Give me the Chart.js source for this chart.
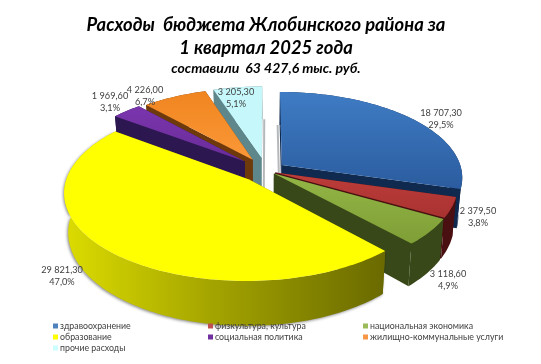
<!DOCTYPE html>
<html><head><meta charset="utf-8">
<style>html,body{margin:0;padding:0;background:#fff}canvas{display:block}</style>
<script src="https://cdn.jsdelivr.net/npm/chart.js@4"></script></head>
<body><canvas id="c" width="541" height="364" style="width:541px;height:364px"></canvas>
<script>
const categories=['здравоохранение','физкультура, культура','национальная экономика','образование','социальная политика','жилищно-коммунальные услуги','прочие расходы'];
const values=[18707.3,2379.5,3118.6,29821.3,1969.6,4226.0,3205.3];
const titleLines=['Расходы  бюджета Жлобинского района за','1 квартал 2025 года'];
const subtitleText='составили  63 427,6 тыс. руб.';
const legendColors=['#4f81bd','#c0504d','#9bbb59','#ffff00','#7030a0','#f79646','#ccffff'];
const topColors=[['#3f7cc4','#2b5c9f'],['#bd3d3a','#a83230'],['#93b545','#7f9f37'],['#ffff00','#ffff00'],['#7a35ad','#6a2c99'],['#f0851f','#fb9838'],['#c6f8fb','#c6f8fb']];
const wallColors=['#10294f','#4a0f10','#384818','#777700','#2c1750','#6e3a0c','#5e878c'];
const explode=[20,10,10,25,29,27,28];
const labelSpots=[[441,113],[478,211],[448,274],[62,270],[110,96],[145,90],[236,92]];
const R=180,Q=0.47,K=0.14,DEPTH=38;
const total=values.reduce((a,b)=>a+b,0);
const fmtValue=v=>{const[s,d]=v.toFixed(2).split('.');return s.replace(/\B(?=(\d{3})+$)/g,' ')+','+d;};
const fmtPct=v=>(v/total*100).toFixed(1).replace('.',',')+'%';
const pie3d={id:'pie3d',
 beforeDatasetDraw(chart,args){
  const ctx=chart.ctx,arcs=args.meta.data;
  const order=[6,5,4,0,1,2,3];
  order.forEach(i=>{
   const el=arcs[i],a0=el.startAngle,a1=el.endAngle,r=el.outerRadius,off=el.options.offset,mid=(a0+a1)/2;
   const ox=off*Math.cos(mid),oy=off*Math.sin(mid);
   const P=(rad,a,t)=>{const px=rad*Math.cos(a)+ox,py=rad*Math.sin(a)+oy,s=1/(1-K*py/r),sh=1-0.02*t;
     return [el.x+px*s*sh,el.y+py*Q*s+t*DEPTH*s];};
   const n=Math.max(8,Math.ceil((a1-a0)*40));
   const poly=pts=>{ctx.beginPath();pts.forEach((p,j)=>j?ctx.lineTo(p[0],p[1]):ctx.moveTo(p[0],p[1]));ctx.closePath();ctx.fill();};
   ctx.save();
   if(i===6||i===0){
    const a=i===6?a1:a0,dx=i===6?2:-2,p=P(r,a,1),q=P(0,0,1);
    ctx.strokeStyle='rgba(120,125,130,.55)';ctx.lineWidth=2;
    ctx.beginPath();ctx.moveTo(p[0]+dx,p[1]);ctx.lineTo(q[0]+dx,q[1]);ctx.stroke();
   }
   ctx.fillStyle=wallColors[i];
   poly([P(0,0,0),P(r,a0,0),P(r,a0,1),P(0,0,1)]);
   poly([P(0,0,0),P(r,a1,0),P(r,a1,1),P(0,0,1)]);
   const top=[],bot=[];
   for(let j=0;j<=n;j++){const a=a0+(a1-a0)*j/n;top.push(P(r,a,0));bot.push(P(r,a,1));}
   if(i===3){const g=ctx.createLinearGradient(62,0,395,0);g.addColorStop(0,'#dddd00');g.addColorStop(.45,'#a4a400');g.addColorStop(1,'#666600');ctx.fillStyle=g;
     ctx.shadowColor='rgba(0,0,0,.45)';ctx.shadowBlur=3;ctx.shadowOffsetX=-1;ctx.shadowOffsetY=1;}
   poly(top.concat(bot.slice().reverse()));
   ctx.shadowColor='transparent';
   const ys=top.map(p=>p[1]).concat(P(0,0,0)[1]);
   const g2=ctx.createLinearGradient(0,Math.min(...ys),0,Math.max(...ys));
   g2.addColorStop(0,topColors[i][0]);g2.addColorStop(1,topColors[i][1]);
   ctx.fillStyle=g2;
   poly([P(0,0,0)].concat(top));
   ctx.restore();
  });
  return false;
 },
 afterDraw(chart){
  const ctx=chart.ctx;
  ctx.save();
  ctx.textAlign='center';ctx.textBaseline='middle';ctx.fillStyle='#404040';ctx.font='9.2px Lato';
  values.forEach((v,i)=>{const[x,y]=labelSpots[i];ctx.fillText(fmtValue(v),x,y);ctx.fillText(fmtPct(v),x,y+12);});
  const cols=[53,208,363],rows=[326,337,348];
  ctx.textAlign='left';ctx.font='8.8px Lato';
  chart.data.labels.forEach((t,i)=>{const x=cols[i%3],y=rows[Math.floor(i/3)];
   ctx.fillStyle=legendColors[i];ctx.fillRect(x,y-2.5,5,5);
   ctx.fillStyle='#404040';ctx.fillText(t,x+7,y);});
  ctx.restore();
 }};
new Chart(document.getElementById('c'),{type:'pie',
 data:{labels:categories,datasets:[{data:values,backgroundColor:legendColors,offset:explode,borderWidth:0}]},
 options:{responsive:false,animation:false,radius:R,
  layout:{padding:{left:0,right:9,top:0,bottom:99}},
  plugins:{legend:{display:false},tooltip:{enabled:false},
   title:{display:true,text:titleLines,color:'#000',font:{family:'Lato',size:18.4,weight:'bold',style:'italic',lineHeight:1.25},padding:{top:14,bottom:0}},
   subtitle:{display:true,text:subtitleText,color:'#000',font:{family:'Lato',size:14,weight:'bold',style:'italic',lineHeight:1.15},padding:{top:0,bottom:0}}}},
 plugins:[pie3d]});
</script></body></html>
